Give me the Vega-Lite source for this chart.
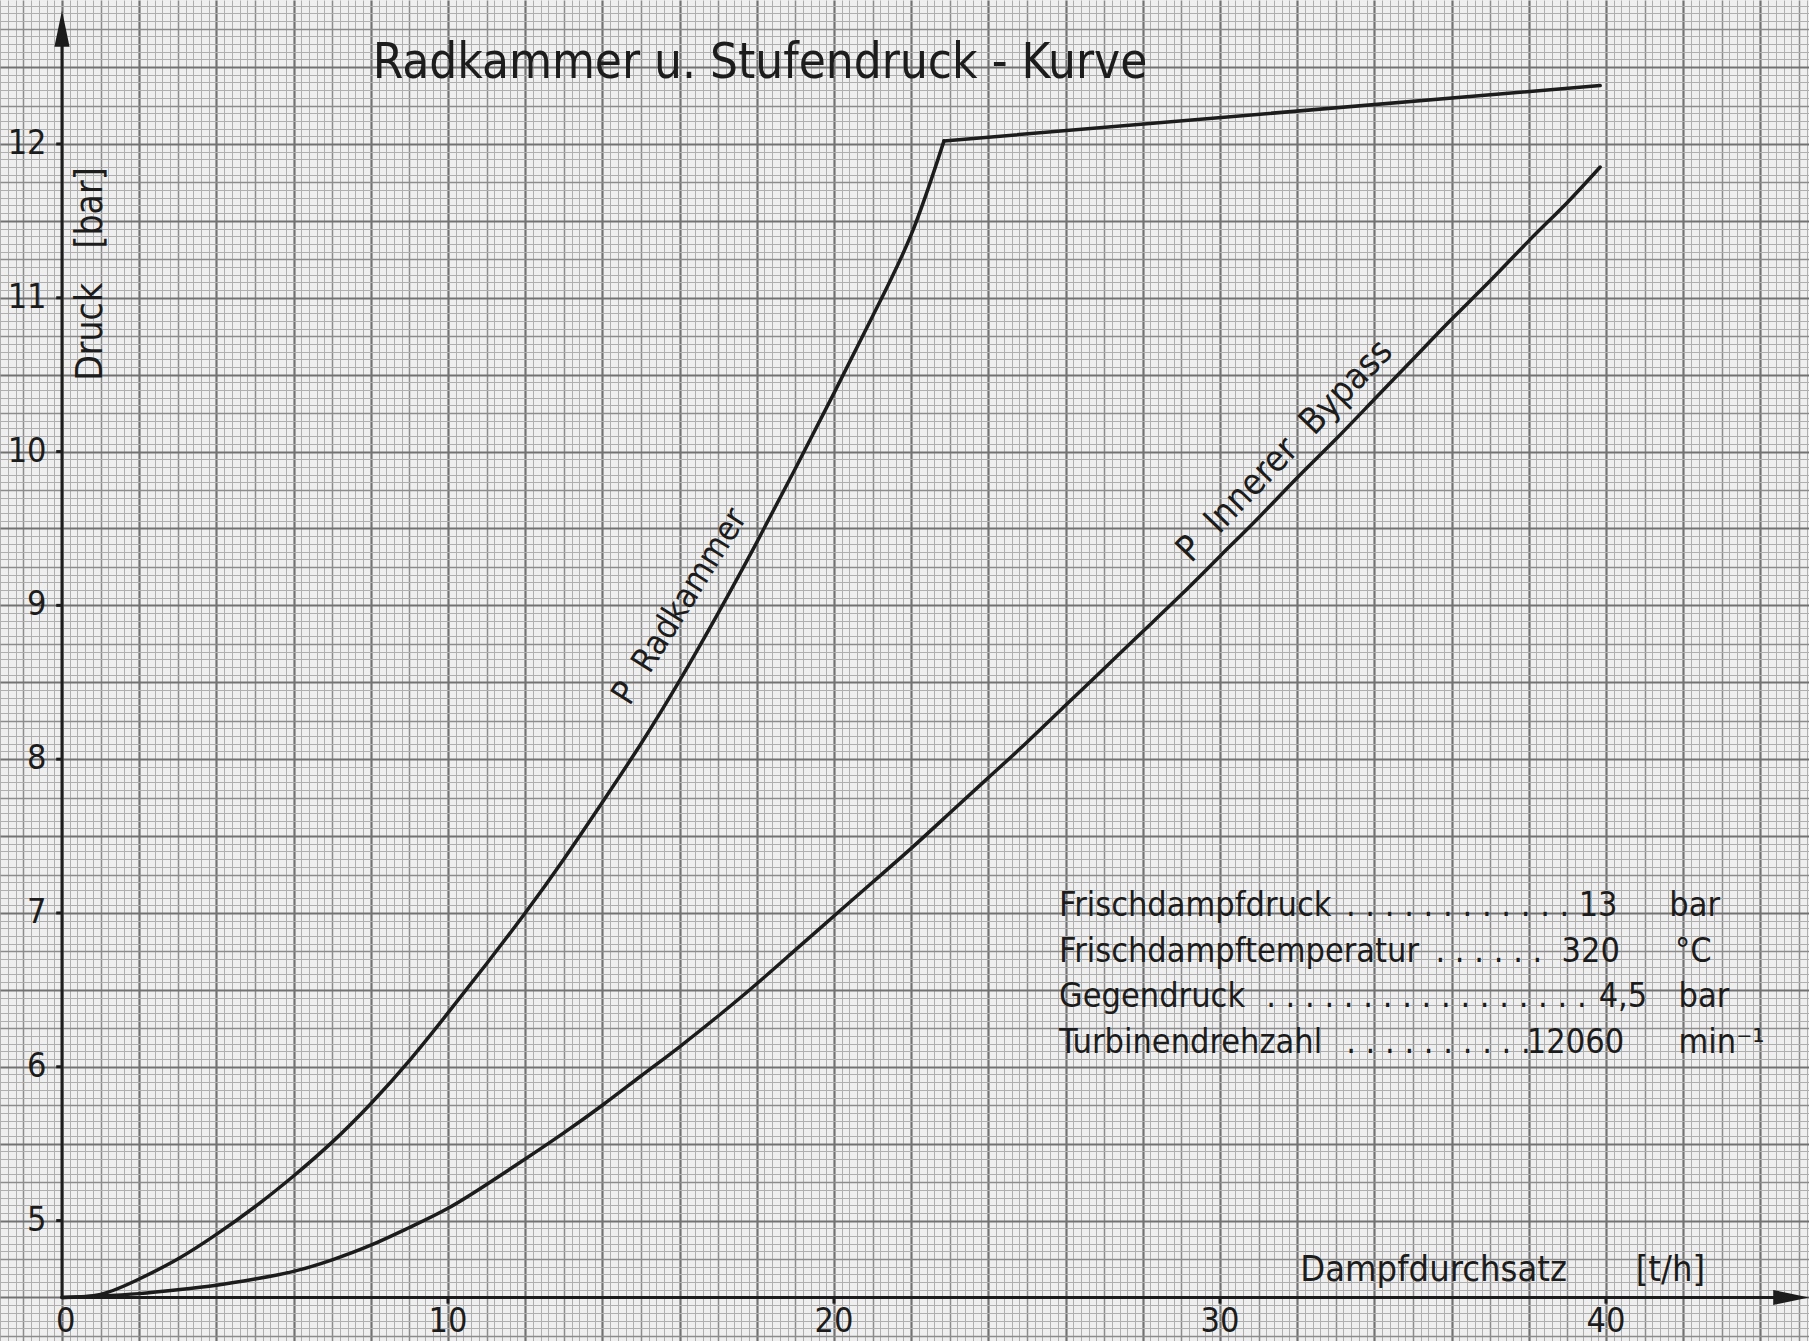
{
  "$schema": "https://vega.github.io/schema/vega-lite/v6.json",
  "width": 1809,
  "height": 1341,
  "autosize": {"type": "none"},
  "padding": 0,
  "background": "#efefef",
  "config": {"view": {"stroke": null}, "text": {"font": "DejaVu Sans Condensed, Liberation Sans Narrow, DejaVu Sans", "color": "#1c1c1c"}},
  "datasets": {
    "kurven": [
      {"kurve": "Radkammer", "t": 0, "p": 4.5},
      {"kurve": "Radkammer", "t": 1, "p": 4.52},
      {"kurve": "Radkammer", "t": 2, "p": 4.62},
      {"kurve": "Radkammer", "t": 3, "p": 4.75},
      {"kurve": "Radkammer", "t": 4, "p": 4.91},
      {"kurve": "Radkammer", "t": 5, "p": 5.09},
      {"kurve": "Radkammer", "t": 6, "p": 5.29},
      {"kurve": "Radkammer", "t": 7, "p": 5.51},
      {"kurve": "Radkammer", "t": 8, "p": 5.76},
      {"kurve": "Radkammer", "t": 9, "p": 6.04},
      {"kurve": "Radkammer", "t": 10, "p": 6.35},
      {"kurve": "Radkammer", "t": 11, "p": 6.67},
      {"kurve": "Radkammer", "t": 12, "p": 7.0},
      {"kurve": "Radkammer", "t": 13, "p": 7.35},
      {"kurve": "Radkammer", "t": 14, "p": 7.72},
      {"kurve": "Radkammer", "t": 15, "p": 8.1},
      {"kurve": "Radkammer", "t": 16, "p": 8.51},
      {"kurve": "Radkammer", "t": 17, "p": 8.95},
      {"kurve": "Radkammer", "t": 18, "p": 9.41},
      {"kurve": "Radkammer", "t": 19, "p": 9.89},
      {"kurve": "Radkammer", "t": 20, "p": 10.38},
      {"kurve": "Radkammer", "t": 21, "p": 10.88},
      {"kurve": "Radkammer", "t": 22, "p": 11.41},
      {"kurve": "Radkammer", "t": 22.85, "p": 12.02},
      {"kurve": "Radkammer oben", "t": 22.85, "p": 12.02},
      {"kurve": "Radkammer oben", "t": 39.85, "p": 12.38},
      {"kurve": "Innerer Bypass", "t": 0, "p": 4.5},
      {"kurve": "Innerer Bypass", "t": 1, "p": 4.51},
      {"kurve": "Innerer Bypass", "t": 2, "p": 4.525},
      {"kurve": "Innerer Bypass", "t": 3, "p": 4.55},
      {"kurve": "Innerer Bypass", "t": 4, "p": 4.58},
      {"kurve": "Innerer Bypass", "t": 5, "p": 4.62},
      {"kurve": "Innerer Bypass", "t": 6, "p": 4.67},
      {"kurve": "Innerer Bypass", "t": 7, "p": 4.745},
      {"kurve": "Innerer Bypass", "t": 8, "p": 4.84},
      {"kurve": "Innerer Bypass", "t": 9, "p": 4.955},
      {"kurve": "Innerer Bypass", "t": 10, "p": 5.08},
      {"kurve": "Innerer Bypass", "t": 11, "p": 5.235},
      {"kurve": "Innerer Bypass", "t": 12, "p": 5.4},
      {"kurve": "Innerer Bypass", "t": 13, "p": 5.57},
      {"kurve": "Innerer Bypass", "t": 14, "p": 5.75},
      {"kurve": "Innerer Bypass", "t": 15, "p": 5.94},
      {"kurve": "Innerer Bypass", "t": 16, "p": 6.13},
      {"kurve": "Innerer Bypass", "t": 17, "p": 6.33},
      {"kurve": "Innerer Bypass", "t": 18, "p": 6.54},
      {"kurve": "Innerer Bypass", "t": 19, "p": 6.76},
      {"kurve": "Innerer Bypass", "t": 20, "p": 6.98},
      {"kurve": "Innerer Bypass", "t": 21, "p": 7.2},
      {"kurve": "Innerer Bypass", "t": 22, "p": 7.42},
      {"kurve": "Innerer Bypass", "t": 23, "p": 7.65},
      {"kurve": "Innerer Bypass", "t": 24, "p": 7.88},
      {"kurve": "Innerer Bypass", "t": 25, "p": 8.11},
      {"kurve": "Innerer Bypass", "t": 26, "p": 8.35},
      {"kurve": "Innerer Bypass", "t": 27, "p": 8.59},
      {"kurve": "Innerer Bypass", "t": 28, "p": 8.83},
      {"kurve": "Innerer Bypass", "t": 29, "p": 9.07},
      {"kurve": "Innerer Bypass", "t": 30, "p": 9.32},
      {"kurve": "Innerer Bypass", "t": 31, "p": 9.57},
      {"kurve": "Innerer Bypass", "t": 32, "p": 9.83},
      {"kurve": "Innerer Bypass", "t": 33, "p": 10.08},
      {"kurve": "Innerer Bypass", "t": 34, "p": 10.34},
      {"kurve": "Innerer Bypass", "t": 35, "p": 10.6},
      {"kurve": "Innerer Bypass", "t": 36, "p": 10.86},
      {"kurve": "Innerer Bypass", "t": 37, "p": 11.11},
      {"kurve": "Innerer Bypass", "t": 38, "p": 11.37},
      {"kurve": "Innerer Bypass", "t": 39, "p": 11.62},
      {"kurve": "Innerer Bypass", "t": 39.85, "p": 11.85}
    ],
    "achsen": [
      {"t": 0, "p": 4.5, "t2": 0, "p2": 12.66},
      {"t": 0, "p": 4.5, "t2": 44.45, "p2": 4.5},
      {"t": -0.15, "p": 5, "t2": 0, "p2": 5},
      {"t": -0.15, "p": 6, "t2": 0, "p2": 6},
      {"t": -0.15, "p": 7, "t2": 0, "p2": 7},
      {"t": -0.15, "p": 8, "t2": 0, "p2": 8},
      {"t": -0.15, "p": 9, "t2": 0, "p2": 9},
      {"t": -0.15, "p": 10, "t2": 0, "p2": 10},
      {"t": -0.15, "p": 11, "t2": 0, "p2": 11},
      {"t": -0.15, "p": 12, "t2": 0, "p2": 12},
      {"t": 10, "p": 4.46, "t2": 10, "p2": 4.5},
      {"t": 20, "p": 4.46, "t2": 20, "p2": 4.5},
      {"t": 30, "p": 4.46, "t2": 30, "p2": 4.5},
      {"t": 40, "p": 4.46, "t2": 40, "p2": 4.5}
    ],
    "pfeile": [
      {"richtung": "oben", "t": 0, "p": 12.75},
      {"richtung": "rechts", "t": 44.8, "p": 4.5}
    ],
    "ylabels": [
      {"t": -0.4, "p": 5, "text": "5"}, {"t": -0.4, "p": 6, "text": "6"}, {"t": -0.4, "p": 7, "text": "7"}, {"t": -0.4, "p": 8, "text": "8"},
      {"t": -0.4, "p": 9, "text": "9"}, {"t": -0.4, "p": 10, "text": "10"}, {"t": -0.4, "p": 11, "text": "11"}, {"t": -0.4, "p": 12, "text": "12"}
    ],
    "xlabels": [
      {"t": 0.1, "p": 4.34, "text": "0"}, {"t": 10, "p": 4.34, "text": "10"}, {"t": 20, "p": 4.34, "text": "20"}, {"t": 30, "p": 4.34, "text": "30"}, {"t": 40, "p": 4.34, "text": "40"}
    ],
    "titel": [{"t": 8.05, "p": 12.43, "text": "Radkammer u. Stufendruck - Kurve"}],
    "xtitel": [
      {"t": 32.08, "p": 4.61, "text": "Dampfdurchsatz"},
      {"t": 40.77, "p": 4.61, "text": "[t/h]"}
    ],
    "ytitel": [
      {"t": 1.03, "p": 10.46, "text": "Druck"},
      {"t": 1.03, "p": 11.32, "text": "[bar]"}
    ],
    "label_rad": [{"t": 14.7, "p": 8.34, "text": "P\u00a0\u00a0Radkammer"}],
    "label_bypass": [{"t": 29.25, "p": 9.27, "text": "P\u00a0\u00a0Innerer\u00a0\u00a0Bypass"}],
    "info_text": [
      {"t": 25.83, "p": 6.98, "text": "Frischdampfdruck"},
      {"t": 25.83, "p": 6.68, "text": "Frischdampftemperatur"},
      {"t": 25.83, "p": 6.39, "text": "Gegendruck"},
      {"t": 25.83, "p": 6.09, "text": "Turbinendrehzahl"}
    ],
    "info_punkte": [
      {"t": 39.05, "p": 6.98, "text": ". . . . . . . . . . . ."},
      {"t": 38.35, "p": 6.68, "text": ". . . . . ."},
      {"t": 39.5, "p": 6.39, "text": ". . . . . . . . . . . . . . . . ."},
      {"t": 38.05, "p": 6.09, "text": ". . . . . . . . . ."}
    ],
    "info_wert": [
      {"t": 40.3, "p": 6.98, "text": "13"},
      {"t": 40.36, "p": 6.68, "text": "320"},
      {"t": 41.07, "p": 6.39, "text": "4,5"},
      {"t": 40.47, "p": 6.09, "text": "12060"}
    ],
    "info_einheit": [
      {"t": 41.64, "p": 6.98, "text": "bar"},
      {"t": 41.79, "p": 6.68, "text": "°C"},
      {"t": 41.88, "p": 6.39, "text": "bar"},
      {"t": 41.88, "p": 6.09, "text": "min⁻¹"}
    ]
  },
  "encoding": {
    "x": {"field": "t", "type": "quantitative", "scale": {"domain": [-1.606, 45.26], "nice": false, "zero": false}, "axis": {
      "orient": "bottom", "labels": false, "ticks": false, "domain": false, "title": null, "grid": true, "tickCount": 235,
      "gridColor": {"condition": [
        {"test": "abs(round(datum.value*5)) % 10 == 0", "value": "#727272"},
        {"test": "abs(round(datum.value*5)) % 5 == 0", "value": "#8c8c8c"}
      ], "value": "#afafaf"},
      "gridWidth": {"condition": [
        {"test": "abs(round(datum.value*5)) % 10 == 0", "value": 2.2},
        {"test": "abs(round(datum.value*5)) % 5 == 0", "value": 1.5}
      ], "value": 1}
    }},
    "y": {"field": "p", "type": "quantitative", "scale": {"domain": [4.217, 12.936], "nice": false, "zero": false}, "axis": {
      "orient": "left", "labels": false, "ticks": false, "domain": false, "title": null, "grid": true, "tickCount": 175,
      "gridColor": {"condition": [
        {"test": "abs(round(datum.value*20)) % 10 == 0", "value": "#727272"},
        {"test": "abs(round(datum.value*20)) % 5 == 0", "value": "#8c8c8c"}
      ], "value": "#afafaf"},
      "gridWidth": {"condition": [
        {"test": "abs(round(datum.value*20)) % 10 == 0", "value": 2.2},
        {"test": "abs(round(datum.value*20)) % 5 == 0", "value": 1.5}
      ], "value": 1}
    }}
  },
  "layer": [
    {
      "data": {"name": "kurven"},
      "mark": {"type": "line", "interpolate": "natural", "strokeWidth": 3.5, "color": "#1c1c1c", "strokeCap": "round", "strokeJoin": "round"},
      "encoding": {
        "detail": {"field": "kurve", "type": "nominal"},
        "order": {"field": "t", "type": "quantitative"}
      }
    },
    {
      "data": {"name": "achsen"},
      "mark": {"type": "rule", "strokeWidth": 3, "color": "#1c1c1c"},
      "encoding": {
        "x2": {"field": "t2"},
        "y2": {"field": "p2"}
      }
    },
    {
      "data": {"name": "pfeile"},
      "mark": {"type": "point", "filled": true, "opacity": 1, "color": "#1c1c1c", "size": 1300},
      "encoding": {
        "shape": {"field": "richtung", "type": "nominal", "scale": {"domain": ["oben", "rechts"], "range": ["M0,-1L-0.42,1L0.42,1Z", "M1,0L-1,-0.42L-1,0.42Z"]}, "legend": null}
      }
    },
    {
      "data": {"name": "ylabels"},
      "mark": {"type": "text", "align": "right", "baseline": "middle", "fontSize": 34},
      "encoding": {"text": {"field": "text"}}
    },
    {
      "data": {"name": "xlabels"},
      "mark": {"type": "text", "align": "center", "baseline": "middle", "fontSize": 34},
      "encoding": {"text": {"field": "text"}}
    },
    {
      "data": {"name": "titel"},
      "mark": {"type": "text", "align": "left", "baseline": "alphabetic", "fontSize": 49},
      "encoding": {"text": {"field": "text"}}
    },
    {
      "data": {"name": "xtitel"},
      "mark": {"type": "text", "align": "left", "baseline": "alphabetic", "fontSize": 36},
      "encoding": {"text": {"field": "text"}}
    },
    {
      "data": {"name": "ytitel"},
      "mark": {"type": "text", "align": "left", "baseline": "alphabetic", "fontSize": 37, "angle": -90},
      "encoding": {"text": {"field": "text"}}
    },
    {
      "data": {"name": "label_rad"},
      "mark": {"type": "text", "align": "left", "baseline": "alphabetic", "fontSize": 34, "angle": -58},
      "encoding": {"text": {"field": "text"}}
    },
    {
      "data": {"name": "label_bypass"},
      "mark": {"type": "text", "align": "left", "baseline": "alphabetic", "fontSize": 36, "angle": -46},
      "encoding": {"text": {"field": "text"}}
    },
    {
      "data": {"name": "info_text"},
      "mark": {"type": "text", "align": "left", "baseline": "alphabetic", "fontSize": 34},
      "encoding": {"text": {"field": "text"}}
    },
    {
      "data": {"name": "info_punkte"},
      "mark": {"type": "text", "align": "right", "baseline": "alphabetic", "fontSize": 34},
      "encoding": {"text": {"field": "text"}}
    },
    {
      "data": {"name": "info_wert"},
      "mark": {"type": "text", "align": "right", "baseline": "alphabetic", "fontSize": 34},
      "encoding": {"text": {"field": "text"}}
    },
    {
      "data": {"name": "info_einheit"},
      "mark": {"type": "text", "align": "left", "baseline": "alphabetic", "fontSize": 34},
      "encoding": {"text": {"field": "text"}}
    }
  ]
}
